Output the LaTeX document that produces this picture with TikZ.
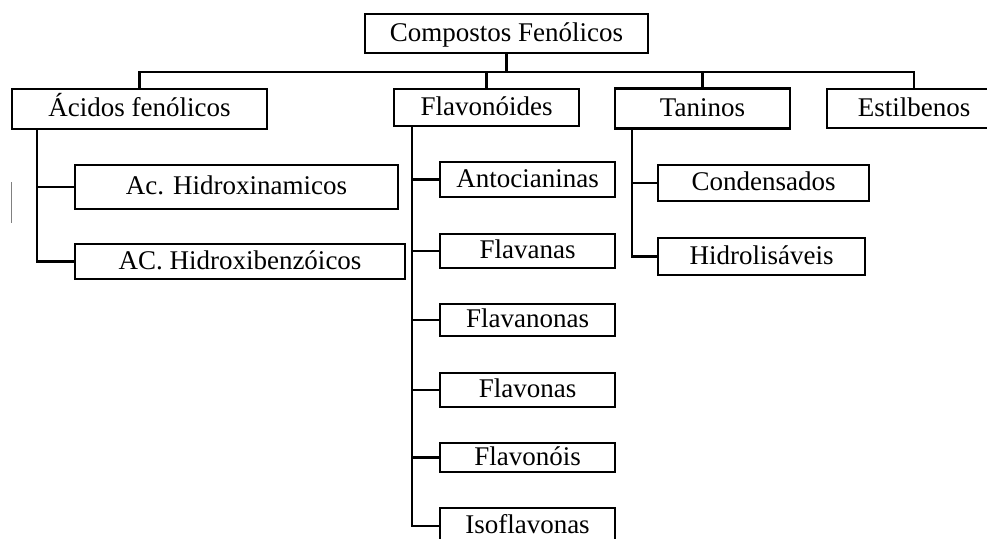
\documentclass[tikz,border=0pt]{standalone}
\usepackage{fontspec}
\setmainfont{Liberation Serif}
\usepackage{tikz}

\begin{document}
\begin{tikzpicture}[x=1pt,y=-1pt,font=\fontsize{27}{30}\selectfont,line width=2.2pt,box/.style={draw,inner sep=0pt,text height=18pt,text depth=3pt}]
\clip (0,0) rectangle (987,538);
\node[box,minimum width=283,minimum height=39](cf) at (506.5,33.5){Compostos Fenólicos};
\node[box,minimum width=255,minimum height=40](af) at (139.5,109){Ácidos fenólicos};
\node[box,minimum width=185,minimum height=37](fl) at (486.5,107.5){Flavonóides};
\node[box,minimum width=175,minimum height=40](tn) at (702.5,108.5){Taninos};
\node[box,minimum width=174,minimum height=39](es) at (914,108.5){Estilbenos};
\node[box,minimum width=323,minimum height=44](hc) at (236.5,187){Ac. Hidroxinamicos};
\node[box,minimum width=330,minimum height=35](hb) at (240,261.5){AC. Hidroxibenzóicos};
\node[box,minimum width=175,minimum height=35](an) at (527.5,179.5){Antocianinas};
\node[box,minimum width=175,minimum height=34](fs) at (527.5,251){Flavanas};
\node[box,minimum width=175,minimum height=32](fn) at (527.5,320){Flavanonas};
\node[box,minimum width=175,minimum height=34](fo) at (527.5,390){Flavonas};
\node[box,minimum width=175,minimum height=29](fi) at (527.5,457.5){Flavonóis};
\node[box,minimum width=175,minimum height=36](is) at (527.5,526){Isoflavonas};
\node[box,minimum width=211,minimum height=36](cd) at (763.5,183){Condensados};
\node[box,minimum width=207,minimum height=37](hl) at (761.5,256.5){Hidrolisáveis};
\draw(cf.south)--++(0,17.5)coordinate(bar);
\draw(af.north)|-(bar)-|(es.north);\draw(fl.north)|-(bar);\draw(tn.north)|-(bar);
\draw([xshift=26]af.south west)|-(hc.west);\draw([xshift=26]af.south west)|-(hb.west);
\draw([xshift=19]fl.south west)|-(an.west);\draw([xshift=19]fl.south west)|-(fs.west);\draw([xshift=19]fl.south west)|-(fn.west);
\draw([xshift=19]fl.south west)|-(fo.west);\draw([xshift=19]fl.south west)|-(fi.west);\draw([xshift=19]fl.south west)|-(is.west);
\draw([xshift=18]tn.south west)|-(cd.west);\draw([xshift=18]tn.south west)|-(hl.west);
\draw[gray,line width=0.6pt](11,182)--(11,223);
\end{tikzpicture}
\end{document}
